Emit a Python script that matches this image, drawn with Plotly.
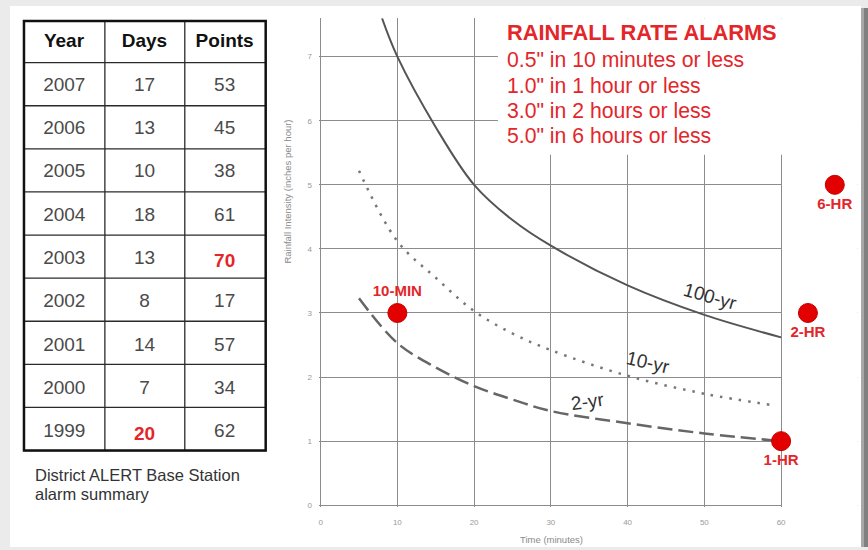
import plotly.graph_objects as go

# ---------------- data ----------------
years = ["2007", "2006", "2005", "2004", "2003", "2002", "2001", "2000", "1999"]
days = [17, 13, 10, 18, 13, 8, 14, 7, 20]
points = [53, 45, 38, 61, 70, 17, 57, 34, 62]
highlight_points_year = "2003"
highlight_days_year = "1999"

yr100_t = [8, 10, 15, 20, 25, 30, 40, 50, 60]
yr100_i = [7.6, 7.0, 5.9, 5.0, 4.45, 4.05, 3.43, 2.97, 2.62]

yr10_t = [5, 10, 15, 20, 25, 30, 40, 50, 59]
yr10_i = [5.22, 4.12, 3.55, 3.03, 2.68, 2.42, 2.02, 1.74, 1.56]

yr2_t = [5, 10, 15, 20, 25, 30, 40, 50, 60]
yr2_i = [3.23, 2.53, 2.15, 1.86, 1.65, 1.47, 1.28, 1.12, 1.0]

alarm_names = ["10-MIN", "1-HR", "2-HR", "6-HR"]
alarm_t = [10, 60, 63.5, 67]
alarm_i = [3, 1, 3, 5]
alarm_textpos = ["top center", "bottom center", "bottom center", "bottom center"]

alarm_lines = ['0.5" in 10 minutes or less', '1.0" in 1 hour or less',
               '3.0" in 2 hours or less', '5.0" in 6 hours or less']

x_ticks = [0, 10, 20, 30, 40, 50, 60]
y_ticks = [0, 1, 2, 3, 4, 5, 6, 7]

# ---------------- layout helpers ----------------
W, H = 868, 550
def px(xp): return xp / W
def py(yp): return 1 - yp / H

RED = "#e3262a"
GRAY = "#555555"
GRID = "#8c8c8c"

fig = go.Figure()

# ---- table (text from go.Table; visible rules drawn below as shapes) ----
body_color = "#4a4a4a"
day_colors = [RED if y == highlight_days_year else body_color for y in years]
pt_colors = [RED if y == highlight_points_year else body_color for y in years]
year_colors = [body_color] * len(years)
day_txt = [f"<b>{d}</b>" if y == highlight_days_year else str(d) for y, d in zip(years, days)]
pt_txt = [f"<b>{p}</b>" if y == highlight_points_year else str(p) for y, p in zip(years, points)]

TAB_L, TAB_R, TAB_T, HEAD_B, TAB_B = 23, 265, 21, 63, 453
COLS = [23, 104, 184, 265]
row_h = (TAB_B - HEAD_B) / len(years)

fig.add_trace(go.Table(
    domain=dict(x=[px(TAB_L), px(TAB_R)], y=[py(TAB_B + 30), py(TAB_T + 1.5)]),
    columnwidth=[81, 80, 81],
    header=dict(values=["<b>Year</b>", "<b>Days</b>", "<b>Points</b>"],
                fill_color="rgba(0,0,0,0)", line=dict(color="rgba(0,0,0,0)", width=0),
                font=dict(family="Arial", size=19, color="#111111"),
                align="center", height=46),
    cells=dict(values=[years, day_txt, pt_txt],
               fill_color="rgba(0,0,0,0)", line=dict(color="rgba(0,0,0,0)", width=0),
               font=dict(family="Arial", size=19, color=[year_colors, day_colors, pt_colors]),
               align="center", height=row_h),
))

# ---- curves ----
fig.add_trace(go.Scatter(x=yr100_t, y=yr100_i, mode="lines", line=dict(color=GRAY, width=2, shape="spline"),
                         hoverinfo="skip", showlegend=False))
fig.add_trace(go.Scatter(x=yr10_t, y=yr10_i, mode="lines",
                         line=dict(color="#777777", width=2.5, dash="2.5px,7px", shape="spline"),
                         hoverinfo="skip", showlegend=False))
fig.add_trace(go.Scatter(x=yr2_t, y=yr2_i, mode="lines",
                         line=dict(color="#666666", width=2.5, dash="15px,6px", shape="spline"),
                         hoverinfo="skip", showlegend=False))

# ---- alarm points ----
fig.add_trace(go.Scatter(x=alarm_t, y=alarm_i, mode="markers+text", text=alarm_names,
                         textposition=alarm_textpos, cliponaxis=False,
                         marker=dict(color="#e30000", size=19, line=dict(color="#c40000", width=1)),
                         textfont=dict(family="Arial", size=15, color=RED, weight="bold"),
                         hoverinfo="skip", showlegend=False))

XPX0, XPPU = 320, 7.683   # pixel of x=0, pixels per minute
YPX0, YPPU = 508, 64.43   # pixel of y=0, pixels per in/hr
x_rng = [-0.15, 70]
y_rng = [-0.03, 7.6]

axis_common = dict(showgrid=True, gridcolor=GRID, gridwidth=1.4, zeroline=False, showline=False,
                   tickfont=dict(family="Arial", size=8, color="#9a9a9a"), ticks="outside",
                   tickcolor="rgba(0,0,0,0)", fixedrange=True)
fig.update_layout(
    width=W, height=H, margin=dict(l=0, r=0, t=0, b=0),
    paper_bgcolor="#ebebeb", plot_bgcolor="rgba(0,0,0,0)",
    xaxis=dict(range=x_rng, domain=[px(XPX0 + x_rng[0] * XPPU), px(XPX0 + x_rng[1] * XPPU)],
               tickvals=x_ticks, ticklen=7, **axis_common),
    yaxis=dict(range=y_rng, domain=[py(YPX0 - y_rng[0] * YPPU), py(YPX0 - y_rng[1] * YPPU)],
               tickvals=y_ticks, ticklen=5, **axis_common),
    showlegend=False,
)

shapes = [
    # white card + shadow
    dict(type="rect", xref="paper", yref="paper", x0=px(9), x1=px(861), y0=0, y1=py(6),
         fillcolor="white", line=dict(width=0), layer="below"),
    dict(type="rect", xref="paper", yref="paper", x0=px(861), x1=px(864), y0=0, y1=py(8),
         fillcolor="#a8a8a8", line=dict(width=0), layer="below"),
    dict(type="rect", xref="paper", yref="paper", x0=px(864), x1=1, y0=0, y1=py(8),
         fillcolor="#808080", line=dict(width=0), layer="below"),
    # masks: grid stops under the alarm text block and right of x=60
    dict(type="rect", xref="x", yref="y", x0=23.1, x1=71, y0=5.47, y1=8,
         fillcolor="white", line=dict(width=0), layer="between"),
    dict(type="rect", xref="x", yref="y", x0=60.12, x1=71, y0=-1, y1=8,
         fillcolor="white", line=dict(width=0), layer="between"),
]
# table rules
for i in range(len(years) + 1):
    yy = HEAD_B + i * row_h
    shapes.append(dict(type="line", xref="paper", yref="paper", x0=px(TAB_L), x1=px(TAB_R),
                       y0=py(yy), y1=py(yy), line=dict(color="#2a2a2a", width=1.3)))
for cx in COLS[1:-1]:
    shapes.append(dict(type="line", xref="paper", yref="paper", x0=px(cx), x1=px(cx),
                       y0=py(TAB_T), y1=py(TAB_B), line=dict(color="#2a2a2a", width=1.3)))
shapes.append(dict(type="rect", xref="paper", yref="paper", x0=px(TAB_L), x1=px(TAB_R),
                   y0=py(TAB_B), y1=py(TAB_T), fillcolor="rgba(0,0,0,0)",
                   line=dict(color="#111111", width=2.5)))
fig.update_layout(shapes=shapes)

ann = []
ann.append(dict(text="<b>RAINFALL RATE ALARMS</b>", xref="paper", yref="paper", x=px(505), y=py(33),
                xanchor="left", yanchor="middle", showarrow=False,
                font=dict(family="Arial", size=21.8, color=RED)))
for i, line in enumerate(alarm_lines):
    ann.append(dict(text=line, xref="paper", yref="paper", x=px(505), y=py(60 + 25.5 * i),
                    xanchor="left", yanchor="middle", showarrow=False,
                    font=dict(family="Arial", size=21.2, color=RED)))
# curve labels
for txt, xx, yy, ang in [("100-yr", 50.8, 3.26, 16), ("10-yr", 42.7, 2.22, 13), ("2-yr", 34.8, 1.62, -8)]:
    ann.append(dict(text=txt, xref="x", yref="y", x=xx, y=yy, showarrow=False, textangle=ang,
                    xanchor="center", yanchor="middle",
                    font=dict(family="Arial", size=19, color="#333333")))
# axis titles
ann.append(dict(text="Time (minutes)", xref="paper", yref="paper", x=px(551), y=py(542),
                xanchor="center", yanchor="middle",
                showarrow=False, font=dict(family="Arial", size=9.5, color="#8a8a8a")))
ann.append(dict(text="Rainfall Intensity (inches per hour)", xref="paper", yref="paper", x=px(287), y=py(193),
                xanchor="center", yanchor="middle",
                showarrow=False, textangle=-90, font=dict(family="Arial", size=9.5, color="#8a8a8a")))
# caption
for txt, yy in [("District ALERT Base Station", 478), ("alarm summary", 497)]:
    ann.append(dict(text=txt, xref="paper", yref="paper", x=px(32), y=py(yy),
                    xanchor="left", yanchor="middle", showarrow=False,
                    font=dict(family="Arial", size=16.5, color="#333333")))
fig.update_layout(annotations=ann)

fig.write_html("out.html", config={"displayModeBar": False},
               post_script="document.body.style.margin='0';")
